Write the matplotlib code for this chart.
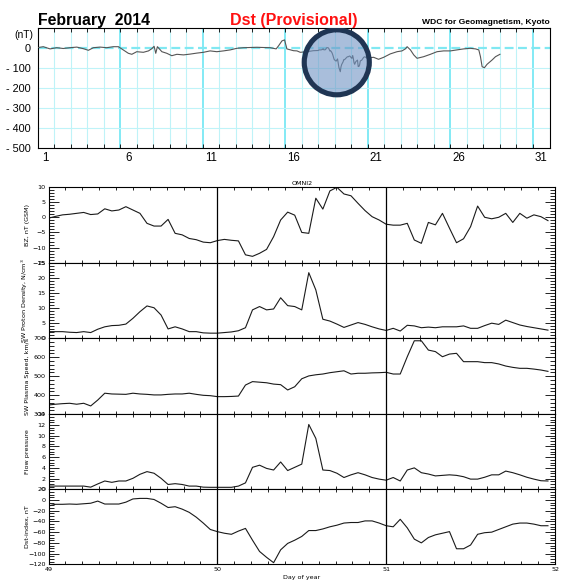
import numpy as np
import matplotlib
matplotlib.use('Agg')
import matplotlib.pyplot as plt
from matplotlib.patches import Ellipse
from matplotlib.ticker import MultipleLocator, FixedLocator, FixedFormatter, NullFormatter

W, H = 561, 581

# ---------------- data ----------------
# Top chart: provisional Dst, February 2014 (day of month, continuous; nT)
top_days_a = [1.0, 1.35, 1.76, 2.16, 2.56, 2.97, 3.38, 3.78, 4.08, 4.38, 4.79, 5.19, 5.59, 5.9,
              6.1, 6.5, 6.71, 7.01, 7.41, 7.72, 7.92, 8.06, 8.16, 8.26, 8.53, 8.83, 9.13, 9.44,
              9.84, 10.24, 10.65, 11.05, 11.45, 11.86, 12.26, 12.67, 13.07, 13.47, 14.28, 15.09,
              15.45, 15.6, 15.8, 15.96, 16.1, 16.5, 16.71, 16.91, 17.32, 17.7]
top_dst_a = [3, 8, -3, 3, -1, 3, 6, -2, -10, 3, 6, 3, 8, 8,
             -3, -25, -30, -17, -20, -13, -2, 10, -25, 8, -17, -25, -37, -30,
             -33, -29, -24, -20, -13, -17, -13, -8, 0, 3, 5, 3,
             -3, 13, 37, 42, -3, -12, -13, -20, -17, -12]
top_days_b = [21.35, 21.65, 21.96, 22.36, 22.77, 23.07, 23.27, 23.38, 23.58, 23.78, 23.98, 24.38,
              24.79, 25.19, 25.59, 26.0, 26.4, 26.8, 27.21, 27.52, 27.72, 27.82, 27.92, 28.06,
              28.22, 28.53, 28.73, 29.0]
top_dst_b = [-45, -55, -45, -28, -17, -13, -3, 8, -8, -33, -50, -42,
             -30, -17, -13, -13, -8, -3, 0, -3, -8, -42, -92, -97,
             -80, -58, -42, -30]
month_day_labels = [1, 6, 11, 16, 21, 26, 31]
top_yticks = [0, -100, -200, -300, -400, -500]

# Bottom panels: OMNI2 hourly values, DOY 49-51 2014
doy_start = 49
hours = np.arange(72)
bz = [-0.3, 0.3, 0.8, 1.0, 1.3, 1.6, 0.9, 1.1, 2.8, 2.1, 2.4, 3.5, 2.4, 1.3, -2.0, -2.9, -2.9, -0.7,
      -5.3, -5.8, -7.0, -7.4, -8.2, -8.4, -7.7, -7.3, -7.6, -7.8, -12.4, -12.9, -11.9, -10.6, -6.4, -0.9,
      1.7, 0.7, -5.0, -5.3, 6.3, 2.7, 8.7, 9.9, 7.7, 7.1, 4.6, 2.2, 0.2, -0.9, -2.3, -2.6, -2.6, -2.0,
      -7.5, -8.6, -1.7, -2.5, 1.3, -3.6, -8.4, -7.1, -3.1, 3.7, 0.0, -0.5, 0.0, 1.3, -1.7, 1.3, -0.3,
      0.8, 0.2, -1.1]
density = [2.2, 2.2, 2.2, 2.0, 1.9, 2.2, 1.9, 3.0, 3.8, 4.2, 4.3, 4.7, 6.6, 8.8, 10.7, 10.1, 7.7, 3.1,
           3.8, 3.1, 2.2, 2.2, 1.8, 1.7, 1.7, 1.9, 2.1, 2.5, 3.5, 9.4, 10.5, 9.4, 9.7, 13.4, 10.8, 10.5,
           9.4, 21.7, 16.0, 6.3, 5.7, 4.7, 3.6, 4.4, 5.2, 4.6, 3.8, 3.1, 2.6, 3.3, 2.4, 4.3, 4.1, 3.5,
           3.7, 3.5, 3.8, 3.8, 3.8, 4.1, 3.3, 3.3, 4.2, 5.0, 4.6, 6.0, 5.2, 4.4, 3.9, 3.5, 3.1, 2.7]
speed = [349, 353, 356, 358, 353, 358, 344, 375, 411, 407, 406, 405, 411, 407, 405, 402, 402, 405,
         407, 407, 411, 405, 400, 398, 393, 393, 394, 396, 454, 472, 469, 466, 459, 456, 428, 445,
         487, 502, 508, 512, 519, 524, 529, 512, 516, 516, 518, 519, 521, 512, 512, 603, 687, 687,
         638, 630, 603, 617, 621, 577, 577, 577, 572, 572, 565, 554, 547, 542, 542, 538, 533, 526]
pressure = [0.6, 0.6, 0.6, 0.6, 0.6, 0.6, 0.4, 1.0, 1.55, 1.3, 1.55, 1.55, 2.05, 2.8, 3.3, 3.0, 2.05,
            0.9, 1.05, 0.9, 0.6, 0.6, 0.4, 0.37, 0.37, 0.37, 0.37, 0.6, 1.2, 4.1, 4.5, 3.9, 3.6, 5.1,
            3.5, 4.1, 4.7, 12.1, 9.5, 3.6, 3.5, 3.0, 2.2, 2.7, 3.1, 2.7, 2.2, 1.9, 1.7, 2.2, 1.55, 3.6,
            4.0, 3.1, 2.85, 2.5, 2.6, 2.7, 2.6, 2.35, 1.9, 1.9, 2.25, 2.7, 2.7, 3.4, 3.1, 2.7, 2.25,
            1.9, 1.6, 1.55]
dst = [-11, -8, -8, -7.5, -8, -7, -6, -2, -7.5, -7.5, -7.5, -4, 2, 3, 3, 1, -6, -14, -12.5, -17,
       -23, -32, -43, -55, -59, -62, -64, -58, -53, -75, -96, -107, -117, -93, -81, -75, -68, -57,
       -57, -54, -50, -47, -43, -42, -42, -39, -39, -43, -48, -50, -36, -52, -73, -80, -70, -65,
       -62, -59, -91, -91, -84, -64, -61, -60, -55, -50, -45, -43, -43, -45, -48, -48]
day_labels = [49, 50, 51, 52]

# ---------------- figure ----------------
fig = plt.figure(figsize=(W / 100, H / 100), dpi=100)


def ax_px(l, t, r, b):
    return fig.add_axes([l / W, 1 - b / H, (r - l) / W, (b - t) / H])


# ---- top Dst chart ----
ax = ax_px(37.5, 28.3, 549.5, 148.3)
ax.set_xlim(1, 32)
ax.set_ylim(-500, 100)
for d in range(2, 32):
    major = (d - 1) % 5 == 0
    ax.axvline(d, color='#62e4f2' if major else '#bff3f8', lw=1.1 if major else 0.8, zorder=1)
for v in [-100, -200, -300, -400]:
    ax.axhline(v, color='#bff3f8', lw=0.8, zorder=1)
ax.axhline(0, color='#80e8f2', lw=1.6, ls=(0, (4, 2)), zorder=1)

top_x = list(top_days_a) + list((doy_start - 31) + hours / 24.0) + list(top_days_b)
top_y = list(top_dst_a) + list(dst) + list(top_dst_b)
ax.plot(top_x, top_y, color='#555555', lw=0.8, zorder=3)

ax.xaxis.set_major_locator(MultipleLocator(1))
ax.xaxis.set_major_formatter(NullFormatter())
ax.xaxis.set_minor_locator(FixedLocator([d + 0.5 for d in month_day_labels]))
ax.xaxis.set_minor_formatter(FixedFormatter([str(d) for d in month_day_labels]))
ax.tick_params(axis='x', which='major', direction='in', length=3, width=0.6, top=True, bottom=True)
ax.tick_params(axis='x', which='minor', length=0, labelsize=8.3, pad=3)
ax.set_yticks(top_yticks)
ax.set_yticklabels(['0' if v == 0 else '- %d' % (-v) for v in top_yticks])
ax.tick_params(axis='y', length=0, labelsize=7.8, pad=5)
for s in ax.spines.values():
    s.set_linewidth(0.8)
for lab in ax.get_xticklabels(which='minor') + ax.get_yticklabels():
    lab.set_family('Liberation Sans')

ell_c = (19.12, -70)
ell_w, ell_h = 65 / 16.5, 65 * 5.0
ax.add_patch(Ellipse(ell_c, ell_w, ell_h, facecolor=(0.44, 0.58, 0.77, 0.6),
                     edgecolor='none', zorder=4))
ax.add_patch(Ellipse(ell_c, ell_w, ell_h, facecolor='none', edgecolor='#1f3553',
                     lw=3.7, zorder=5))

fig.text(24 / W, 1 - 34.5 / H, '(nT)', fontsize=7.5, ha='center', va='center',
         family='Liberation Sans')
fig.text(37.5 / W, 1 - 20 / H, 'February  2014', fontsize=11.4, fontweight='bold',
         ha='left', va='center', family='Liberation Sans')
fig.text(293.6 / W, 1 - 20 / H, 'Dst (Provisional)', fontsize=11.5, fontweight='bold',
         color='#ff1010', ha='center', va='center', family='Liberation Sans')
fig.text(549.5 / W, 1 - 22.3 / H, 'WDC for Geomagnetism, Kyoto', fontsize=6.1,
         fontweight='bold', ha='right', va='center', family='Liberation Sans')

# ---- OMNI2 stacked panels ----
edges = [187, 262.7, 338.3, 414.3, 489.3, 564.3]
left, right = 48.5, 555
t = doy_start + hours / 24.0
panels = [
    (bz, (-15, 10), 5, 1, 'BZ, nT (GSM)'),
    (density, (0, 25), 5, 1, 'SW Proton Density, N/cm$^3$'),
    (speed, (300, 700), 100, 20, 'SW Plasma Speed, km/s'),
    (pressure, (0, 14), 2, 0.5, 'Flow pressure'),
    (dst, (-120, 20), 20, 5, 'Dst-index, nT'),
]
fs = 4.6
for i, (vals, (lo, hi), maj, mnr, lab) in enumerate(panels):
    a = ax_px(left, edges[i], right, edges[i + 1])
    a.plot(t, vals, color='#1a1a1a', lw=0.8)
    a.set_xlim(day_labels[0], day_labels[-1])
    a.set_ylim(lo, hi)
    for d in day_labels[1:-1]:
        a.axvline(d, color='black', lw=0.9)
    a.yaxis.set_major_locator(MultipleLocator(maj))
    a.yaxis.set_minor_locator(MultipleLocator(mnr))
    a.xaxis.set_major_locator(FixedLocator(day_labels))
    a.xaxis.set_minor_locator(MultipleLocator(0.1))
    a.tick_params(which='both', direction='in', top=True, right=True, width=0.6,
                  labelsize=fs, pad=2)
    a.tick_params(axis='y', which='major', length=7)
    a.tick_params(axis='y', which='minor', length=3.5)
    a.tick_params(axis='x', which='both', length=2.2)
    if i < len(panels) - 1:
        a.set_xticklabels([])
    else:
        a.set_xticklabels([str(d) for d in day_labels])
        a.set_xlabel('Day of year', fontsize=fs, labelpad=2)
    a.set_ylabel(lab, fontsize=fs)
    a.yaxis.set_label_coords(-(left - 30) / (right - left), 0.5)
    for s in a.spines.values():
        s.set_linewidth(0.8)
    if i == 0:
        a.set_title('OMNI2', fontsize=fs, pad=1.5)

fig.savefig('out.png', dpi=100)
